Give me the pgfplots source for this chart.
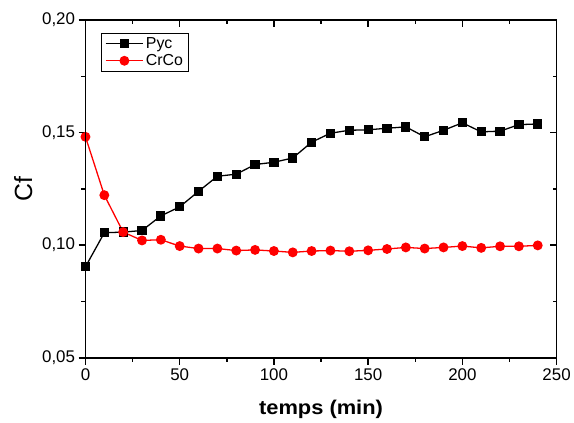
\documentclass[border=0pt]{standalone}
\usepackage{fontspec}
\setmainfont{Liberation Sans}
\usepackage{graphicx}
\usepackage{pgfplots}
\pgfplotsset{compat=1.18}
\pgfplotstableread{
t v
0 0.0904
10 0.1055
20 0.1058
30 0.1065
40 0.1130
50 0.1170
60 0.1239
70 0.1306
80 0.1315
90 0.1358
100 0.1368
110 0.1387
120 0.1457
130 0.1497
140 0.1510
150 0.1512
160 0.1519
170 0.1525
180 0.1481
190 0.1510
200 0.1543
210 0.1503
220 0.1506
230 0.1535
240 0.1538
}\pyc
\pgfplotstableread{
t v
0 0.1481
10 0.1222
20 0.1058
30 0.1021
40 0.1024
50 0.0996
60 0.0985
70 0.0985
80 0.0976
90 0.0979
100 0.0974
110 0.0968
120 0.0974
130 0.0976
140 0.0973
150 0.0977
160 0.0983
170 0.0990
180 0.0985
190 0.0990
200 0.0996
210 0.0988
220 0.0995
230 0.0995
240 0.0999
}\crco
\begin{document}
\begin{tikzpicture}
\path (-86pt,-63pt) rectangle (488pt,360pt);
\pgfplotsset{
  base/.style={
    at={(0pt,0pt)}, anchor=south west,
    scale only axis, width=474pt, height=340pt,
    xmin=0, xmax=250, ymin=0.05, ymax=0.20,
    xtick={0,50,...,250}, ytick={0.05,0.10,0.15,0.20},
    minor x tick num=1, minor y tick num=1,
    major tick length=7pt, minor tick length=4pt,
    axis line style={line width=1.8pt},
    every tick/.style={black, line width=1.4pt},
  }
}
\begin{axis}[base,
  xtick pos=bottom, ytick pos=left, tick align=outside,
  /pgf/number format/assume math mode=true,
  yticklabel style={/pgf/number format/.cd, use comma, fixed, fixed zerofill, precision=2},
  xticklabel style={/pgf/number format/.cd, fixed},
  tick label style={font=\fontsize{17}{20}\selectfont},
  xlabel={\scalebox{1.1}[1]{\bfseries temps (min)}},
  xlabel style={font=\fontsize{20}{24}\selectfont, at={(axis description cs:0.5,-0.153)}, anchor=center},
  ylabel={Cf},
  ylabel style={font=\fontsize{25}{28}\selectfont, at={(axis description cs:-0.132,0.5)}, anchor=center},
  legend style={at={(axis description cs:0.034,0.962)}, anchor=north west,
    draw=black, line width=0.8pt, font=\fontsize{16}{19}\selectfont,
    inner xsep=3pt, inner ysep=2pt, row sep=1pt},
  legend cell align=left,
  legend image code/.code={\draw[mark repeat=2,mark phase=2] plot coordinates {(0pt,0pt) (19pt,0pt) (38pt,0pt)};},
]
\addplot[black, line width=1.3pt, mark=square*, mark size=4pt, mark options={solid}] table[x=t,y=v] {\pyc};
\addlegendentry{Pyc}
\addplot[red, line width=1.3pt, mark=*, mark size=4.3pt, mark options={solid}] table[x=t,y=v] {\crco};
\addlegendentry{CrCo}
\end{axis}
\begin{axis}[base,
  xtick pos=top, ytick pos=right, tick align=inside,
  xticklabels={}, yticklabels={},
]
\end{axis}
\end{tikzpicture}
\end{document}
